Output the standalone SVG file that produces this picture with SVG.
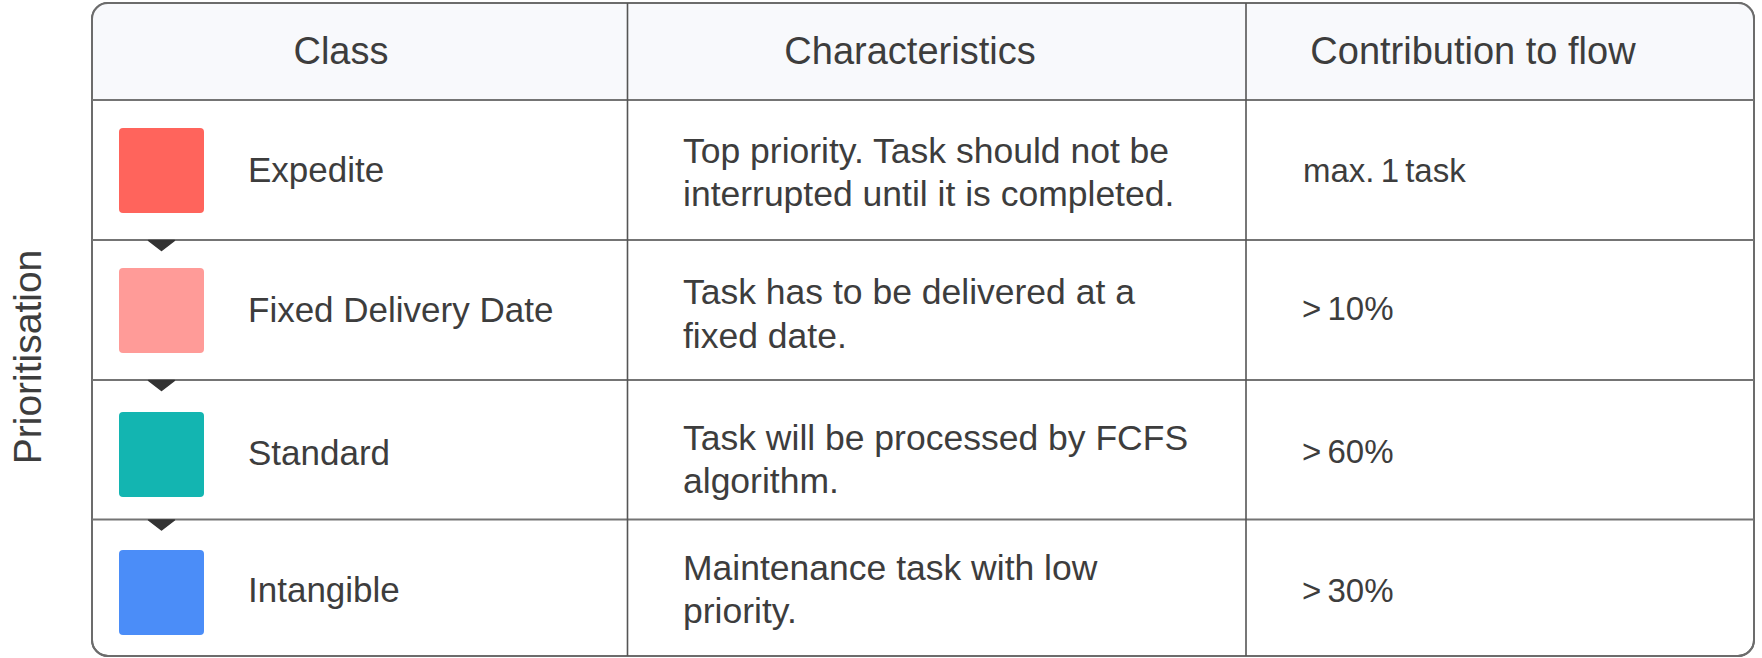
<svg xmlns="http://www.w3.org/2000/svg" width="1762" height="658" viewBox="0 0 1762 658">
  <style>
    text { font-family: "Liberation Sans", Arial, sans-serif; fill: #3d3d3d; }
    .head { font-size: 38px; text-anchor: middle; }
    .cls { font-size: 35px; }
    .body { font-size: 35.5px; }
    .share { font-size: 33px; word-spacing: -3px; }
    .side { font-size: 39px; text-anchor: middle; }
    .frame { fill: #ffffff; stroke: #6c6c6c; stroke-width: 2; }
    .hrule { stroke: #747474; stroke-width: 2; fill: none; }
    .vrule { stroke: #555555; stroke-width: 1.6; fill: none; }
    .swatch { stroke: none; }
    .tip { fill: #333333; stroke: #333333; stroke-width: 1.5; stroke-linejoin: round; }
  </style>
  <defs>
    <clipPath id="frameClip">
      <rect x="92" y="3" width="1662" height="653" rx="16" ry="16"/>
    </clipPath>
  </defs>

  <rect width="1762" height="658" fill="#ffffff"/>

  <!-- side label -->
  <g id="side-label">
    <text class="side" transform="translate(41,357) rotate(-90)">Prioritisation</text>
  </g>

  <!-- table frame, header band and grid lines -->
  <g id="table">
    <rect class="frame" x="92" y="3" width="1662" height="653" rx="16" ry="16"/>
    <rect x="92" y="3" width="1662" height="97" fill="#f8f9fc" clip-path="url(#frameClip)"/>
    <rect x="92" y="3" width="1662" height="653" rx="16" ry="16" fill="none" stroke="#6c6c6c" stroke-width="2"/>
    <line class="hrule" x1="92" y1="100" x2="1754" y2="100"/>
    <line class="hrule" x1="92" y1="240" x2="1754" y2="240"/>
    <line class="hrule" x1="92" y1="380" x2="1754" y2="380"/>
    <line class="hrule" x1="92" y1="519.5" x2="1754" y2="519.5"/>
    <line class="vrule" x1="627.5" y1="3" x2="627.5" y2="656"/>
    <line class="vrule" x1="1246" y1="3" x2="1246" y2="656"/>
  </g>

  <!-- column headings -->
  <g id="header">
    <text class="head" x="341" y="64">Class</text>
    <text class="head" x="910" y="64">Characteristics</text>
    <text class="head" x="1473" y="64">Contribution to flow</text>
  </g>

  <!-- class rows -->
  <g id="row-expedite">
    <rect class="swatch" x="119" y="128" width="85" height="85" rx="4" fill="#ff645c"/>
    <text class="cls" x="248" y="182">Expedite</text>
    <text class="body" x="683" y="162.5">Top priority. Task should not be</text>
    <text class="body" x="683" y="206">interrupted until it is completed.</text>
    <text class="share" x="1303" y="182">max. 1 task</text>
  </g>

  <g id="row-fixed-date">
    <rect class="swatch" x="119" y="268" width="85" height="85" rx="4" fill="#ff9b98"/>
    <text class="cls" x="248" y="322">Fixed Delivery Date</text>
    <text class="body" x="683" y="304">Task has to be delivered at a</text>
    <text class="body" x="683" y="348">fixed date.</text>
    <text class="share" x="1302" y="320">&gt; 10%</text>
  </g>

  <g id="row-standard">
    <rect class="swatch" x="119" y="412" width="85" height="85" rx="4" fill="#13b5b1"/>
    <text class="cls" x="248" y="465">Standard</text>
    <text class="body" x="683" y="450">Task will be processed by FCFS</text>
    <text class="body" x="683" y="493">algorithm.</text>
    <text class="share" x="1302" y="463">&gt; 60%</text>
  </g>

  <g id="row-intangible">
    <rect class="swatch" x="119" y="550" width="85" height="85" rx="4" fill="#4b8df8"/>
    <text class="cls" x="248" y="602">Intangible</text>
    <text class="body" x="683" y="580">Maintenance task with low</text>
    <text class="body" x="683" y="623">priority.</text>
    <text class="share" x="1302" y="602">&gt; 30%</text>
  </g>

  <!-- priority flow: arrow tips between consecutive classes -->
  <g id="connectors">
    <path class="tip" d="M148.5,240.5 L174.5,240.5 L161.5,250.5 Z"/>
    <path class="tip" d="M148.5,380.5 L174.5,380.5 L161.5,390.5 Z"/>
    <path class="tip" d="M148.5,520 L174.5,520 L161.5,530 Z"/>
  </g>
</svg>
